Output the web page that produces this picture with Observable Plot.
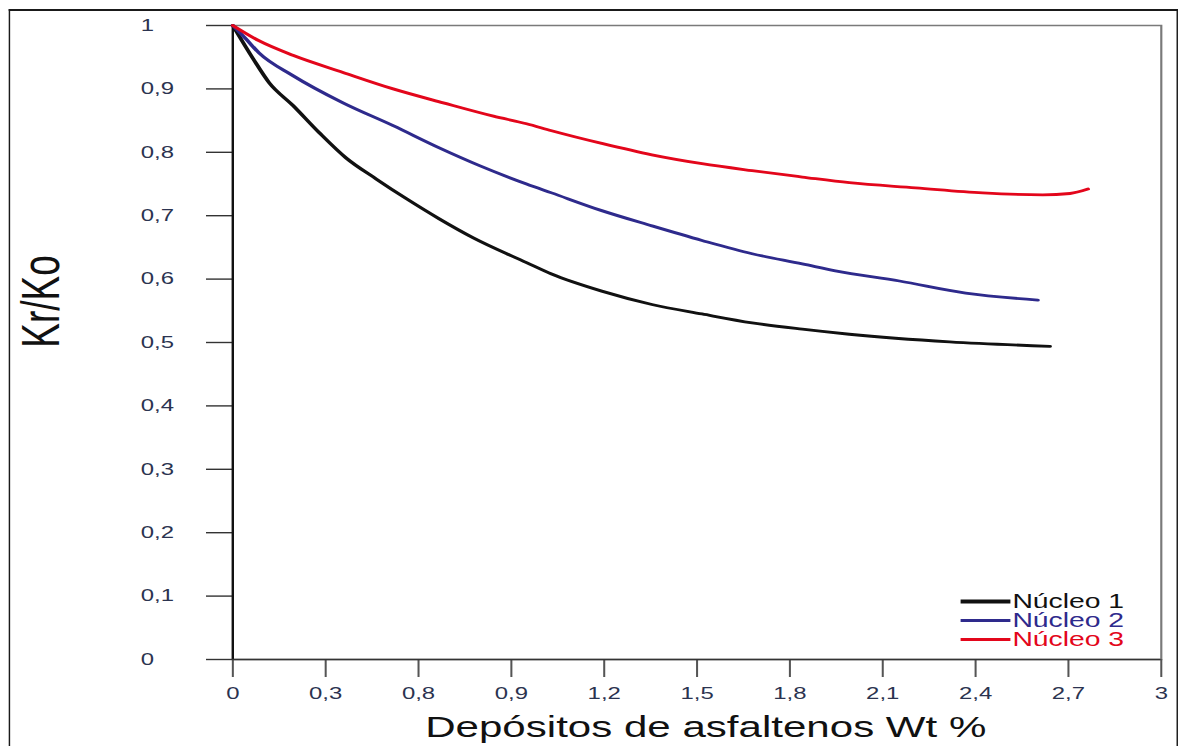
<!DOCTYPE html>
<html>
<head>
<meta charset="utf-8">
<script src="https://cdn.jsdelivr.net/npm/d3@7"></script>
<script src="https://cdn.jsdelivr.net/npm/@observablehq/plot@0.6"></script>
<style>
  html, body { margin: 0; padding: 0; background: #fff; overflow: hidden; }
  #wrap { position: relative; width: 812px; height: 746px; transform: scale(1.4507, 1); transform-origin: 0 0;
          font-family: "Liberation Sans", Arial, sans-serif; }
  #outer { position: absolute; left: 5.6px; top: 8.5px; width: 806px; height: 780px; box-sizing: border-box;
           border: 2px solid #1a1a1a; border-left-width: 1.4px; border-right-width: 1.4px; border-bottom: none; }
  #legend { position: absolute; left: 662.4px; top: 591.5px; }
  .row { display: flex; align-items: center; height: 19px; }
  .row span { font-size: 19.5px; line-height: 19px; margin-left: 1px; }
</style>
</head>
<body>
<div id="wrap"><div id="outer"></div></div>
<script>
// ---- data ----
const series = ["Núcleo 1", "Núcleo 2", "Núcleo 3"];
const seriesColors = ["#111111", "#2e2a8c", "#e3061b"];

const xN1 = [0, 0.065, 0.117, 0.194, 0.279, 0.366, 0.463, 0.560, 0.667, 0.777, 0.949, 1.030, 1.192, 1.354, 1.516, 1.678, 1.840, 1.992, 2.316, 2.640];
const yN1 = [1.000, 0.948, 0.910, 0.874, 0.831, 0.791, 0.758, 0.727, 0.695, 0.665, 0.626, 0.608, 0.581, 0.560, 0.545, 0.531, 0.521, 0.513, 0.501, 0.494];

const xN2 = [0, 0.042, 0.084, 0.194, 0.356, 0.518, 0.667, 0.797, 0.949, 1.030, 1.192, 1.354, 1.516, 1.678, 1.840, 1.947, 2.154, 2.368, 2.601];
const yN2 = [1.000, 0.979, 0.957, 0.921, 0.878, 0.842, 0.807, 0.779, 0.750, 0.736, 0.708, 0.684, 0.661, 0.640, 0.624, 0.613, 0.597, 0.578, 0.567];

const xN3 = [0, 0.084, 0.194, 0.356, 0.518, 0.680, 0.842, 0.949, 1.030, 1.192, 1.354, 1.516, 1.678, 1.840, 1.992, 2.206, 2.423, 2.617, 2.705, 2.763];
const yN3 = [1.000, 0.976, 0.953, 0.926, 0.900, 0.878, 0.857, 0.845, 0.834, 0.814, 0.796, 0.782, 0.771, 0.761, 0.752, 0.744, 0.736, 0.733, 0.735, 0.742];

const xTicks = [0, 0.3, 0.6, 0.9, 1.2, 1.5, 1.8, 2.1, 2.4, 2.7, 3];
const xTickLabels = ["0", "0,3", "0,8", "0,9", "1,2", "1,5", "1,8", "2,1", "2,4", "2,7", "3"];
const yTicks = [0, 0.1, 0.2, 0.3, 0.4, 0.5, 0.6, 0.7, 0.8, 0.9, 1];
const yTickLabels = ["0", "0,1", "0,2", "0,3", "0,4", "0,5", "0,6", "0,7", "0,8", "0,9", "1"];

const xTitle = "Depósitos de asfaltenos Wt %";
const yTitle = "Kr/Ko";

// ---- build table ----
const xs = [xN1, xN2, xN3], ys = [yN1, yN2, yN3];
const rows = [];
series.forEach((s, k) => xs[k].forEach((x, i) => rows.push({serie: s, x, y: ys[k][i]})));

const font = "'Liberation Sans', Arial, sans-serif";

const chart = Plot.plot({
  width: 812,
  height: 746,
  marginLeft: 160,
  marginRight: 12,
  marginTop: 25,
  marginBottom: 87,
  style: {fontFamily: font, fontSize: "16.5px", color: "#2b3350", background: "transparent", overflow: "visible"},
  x: {domain: [0, 3]},
  y: {domain: [0, 1]},
  color: {domain: series, range: seriesColors},
  marks: [
    Plot.frame({stroke: "#7a7a7a", strokeWidth: 1.5}),
    Plot.axisX({ticks: xTicks, tickFormat: d => xTickLabels[xTicks.indexOf(d)], tickSize: 18, tickPadding: 10,
                stroke: "#555", strokeWidth: 1.4, label: null, fontSize: 16.5}),
    // y tick marks
    Plot.axisY({ticks: yTicks, tickFormat: () => "", tickSize: 18, stroke: "#333", strokeWidth: 1.4, label: null}),
    // y tick labels (left-aligned, as in the reference)
    Plot.axisY({ticks: yTicks, tickFormat: d => yTickLabels[yTicks.indexOf(d)], tickSize: 0, tickPadding: 3,
                textAnchor: "start", dx: -60.5, label: null, fontSize: 16.5}),
    Plot.ruleX([0], {stroke: "#111", strokeWidth: 1.6}),
    Plot.ruleY([0], {stroke: "#333", strokeWidth: 1.6}),
    Plot.line(rows, {x: "x", y: "y", z: "serie", stroke: "serie", strokeWidth: 2.8, curve: "monotone-x"}),
    Plot.text([xTitle], {frameAnchor: "bottom", dx: 6, dy: 68.5, fontSize: 29, fill: "#111", lineAnchor: "middle"}),
    Plot.text([yTitle], {frameAnchor: "left", rotate: -90, dx: -131.4, dy: -41, fontSize: 37, fill: "#111",
                         lineAnchor: "middle", textAnchor: "middle"})
  ]
});

const wrap = document.getElementById("wrap");
wrap.insertBefore(chart, wrap.firstChild);

// ---- legend (inside plot area, bottom right) ----
const legendWidths = [4, 3, 3];
const legend = document.createElement("div");
legend.id = "legend";
series.forEach((s, i) => {
  const row = document.createElement("div");
  row.className = "row";
  row.innerHTML = `<svg width="34.5" height="19"><line x1="0" x2="34.5" y1="9.5" y2="9.5" stroke="${seriesColors[i]}" stroke-width="${legendWidths[i]}"/></svg><span style="color:${seriesColors[i]}">${s}</span>`;
  legend.appendChild(row);
});
wrap.appendChild(legend);
</script>
</body>
</html>
